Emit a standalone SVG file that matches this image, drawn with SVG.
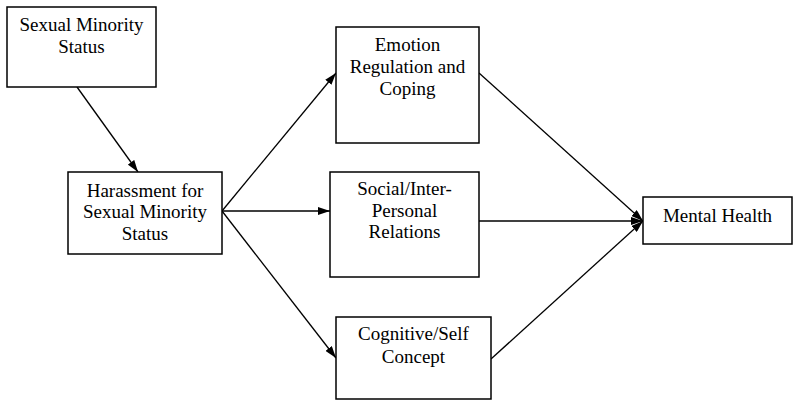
<svg xmlns="http://www.w3.org/2000/svg" width="800" height="407" viewBox="0 0 800 407">
<style>
.box{fill:#fff;stroke:#000;stroke-width:1.5}
.lbl{font-family:"Liberation Serif","Times New Roman",serif;font-size:19px;fill:#000;text-anchor:middle}
.edge{stroke:#000;stroke-width:1.3;fill:none;marker-end:url(#ah)}
</style>
<defs>
<marker id="ah" viewBox="0 0 12 8" refX="12" refY="4" markerWidth="12" markerHeight="8" markerUnits="userSpaceOnUse" orient="auto">
<path d="M0,0 L12,4 L0,8 z" fill="#000"/>
</marker>
</defs>
<rect width="800" height="407" fill="#fff"/>
<g id="connectors">
<line class="edge" x1="77" y1="87" x2="138" y2="172"/>
<line class="edge" x1="222" y1="211" x2="336" y2="73"/>
<line class="edge" x1="222" y1="211" x2="330" y2="211"/>
<line class="edge" x1="222" y1="211" x2="336" y2="358"/>
<line class="edge" x1="479" y1="73" x2="643" y2="221"/>
<line class="edge" x1="479" y1="221" x2="643" y2="221"/>
<line class="edge" x1="491" y1="359" x2="643" y2="221"/>
</g>
<g id="sexual-minority-status">
<rect class="box" x="7" y="7" width="149" height="80"/>
<text class="lbl" x="81.5" y="31">Sexual Minority</text>
<text class="lbl" x="81.5" y="53">Status</text>
</g>
<g id="harassment">
<rect class="box" x="68" y="172" width="154" height="82"/>
<text class="lbl" x="145" y="197">Harassment for</text>
<text class="lbl" x="145" y="218">Sexual Minority</text>
<text class="lbl" x="145" y="240">Status</text>
</g>
<g id="emotion-regulation">
<rect class="box" x="336" y="27" width="143" height="116"/>
<text class="lbl" x="407.5" y="51">Emotion</text>
<text class="lbl" x="407.5" y="73">Regulation and</text>
<text class="lbl" x="407.5" y="95">Coping</text>
</g>
<g id="social-relations">
<rect class="box" x="330" y="172" width="149" height="105"/>
<text class="lbl" x="404.5" y="195">Social/Inter-</text>
<text class="lbl" x="404.5" y="217">Personal</text>
<text class="lbl" x="404.5" y="238">Relations</text>
</g>
<g id="cognitive-self">
<rect class="box" x="336" y="317" width="155" height="82"/>
<text class="lbl" x="413.5" y="340">Cognitive/Self</text>
<text class="lbl" x="413.5" y="363">Concept</text>
</g>
<g id="mental-health">
<rect class="box" x="643" y="197" width="149" height="47"/>
<text class="lbl" x="717.5" y="222">Mental Health</text>
</g>
</svg>
